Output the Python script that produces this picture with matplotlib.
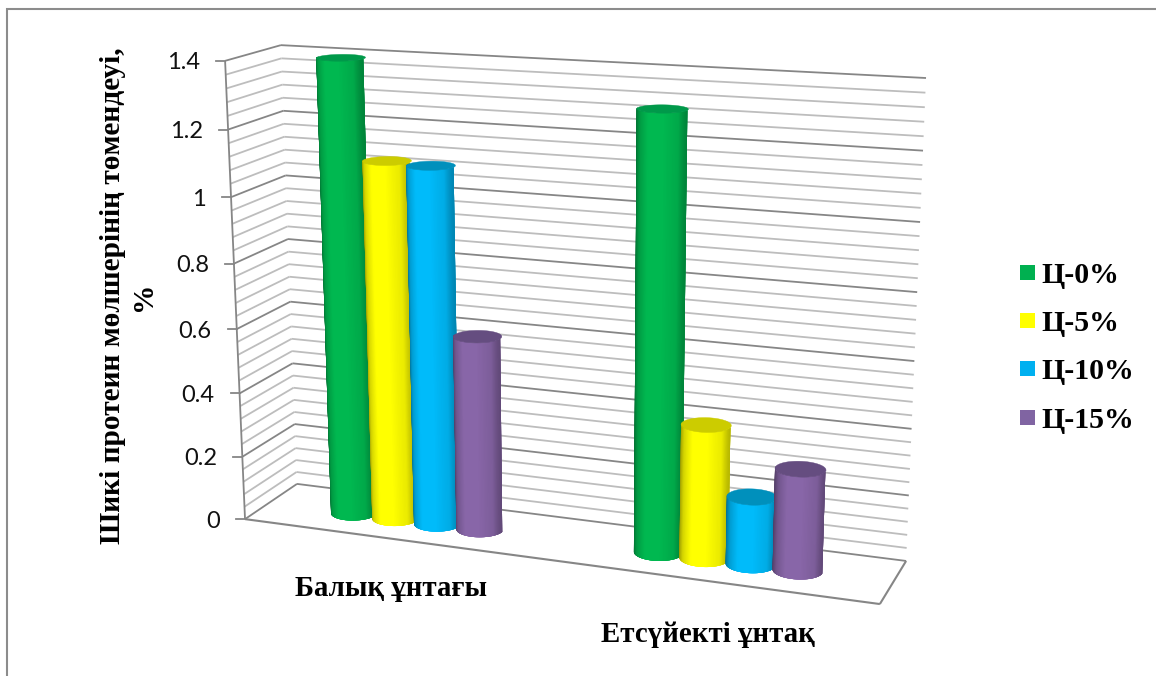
import numpy as np
import matplotlib
matplotlib.use("Agg")
import matplotlib.pyplot as plt
from matplotlib.collections import PolyCollection
from matplotlib.colors import to_rgb
from matplotlib.patches import Rectangle, Polygon

categories = ["Балық ұнтағы", "Етсүйекті ұнтақ"]
series_names = ["Ц-0%", "Ц-5%", "Ц-10%", "Ц-15%"]
values_c0 = [1.40, 1.305]
values_c5 = [1.105, 0.405]
values_c10 = [1.10, 0.205]
values_c15 = [0.60, 0.305]
series_values = [values_c0, values_c5, values_c10, values_c15]
body_colors = ["#00B850", "#FFFF00", "#00BBFA", "#8866A8"]
cap_colors = ["#00994A", "#CCCC00", "#0090BC", "#654D80"]
legend_colors = ["#00B050", "#FFFF00", "#00B0F0", "#8064A2"]
value_ticks = [0, 0.2, 0.4, 0.6, 0.8, 1, 1.2, 1.4]
y_title = "Шикі протеин мөлшерінің төмендеуі,\n%"

Y_MAX = 1.4
MINOR_STEP = 0.04
GRID_MINOR = "#BDBDBD"
GRID_MAJOR = "#868686"
SERIF = "Liberation Serif"

# Camera calibration: box corners (x, value, depth) and where they land on the canvas.
box_corners = np.array([
    [0, 0, 0], [0, Y_MAX, 0], [0, 0, 1], [0, Y_MAX, 1],
    [1, 0, 1], [1, Y_MAX, 1], [1, 0, 0],
], dtype=float)
canvas_corners = np.array([
    [245, 519], [225, 61], [297, 484], [281, 45],
    [906, 561], [926, 78], [880, 604],
], dtype=float)


def fit_camera(world, image):
    rows, rhs = [], []
    for (x, y, z), (u, v) in zip(world, image):
        rows.append([x, y, z, 1, 0, 0, 0, 0, -u * x, -u * y, -u * z])
        rows.append([0, 0, 0, 0, x, y, z, 1, -v * x, -v * y, -v * z])
        rhs += [u, v]
    sol = np.linalg.lstsq(np.array(rows), np.array(rhs), rcond=None)[0]
    return np.append(sol, 1.0).reshape(3, 4)


CAMERA = fit_camera(box_corners, canvas_corners)


def project(x, y, z):
    x, y, z = np.broadcast_arrays(x, y, z)
    h = CAMERA @ np.vstack([x.ravel(), y.ravel(), z.ravel(), np.ones(x.size)])
    return np.column_stack([h[0] / h[2], h[1] / h[2]])


def line3d(ax, a, b, color, lw=1.3, zorder=1):
    pts = project(*np.array([a, b]).T)
    ax.plot(pts[:, 0], pts[:, 1], color=color, lw=lw, zorder=zorder,
            solid_capstyle="butt")


def shade(u):
    # Brightness across the visible face of a cylinder, left to right.
    return np.interp(u, [0, 0.10, 0.35, 0.65, 0.85, 1.0],
                     [0.72, 0.92, 1.0, 1.0, 0.84, 0.58])


def draw_cylinder(ax, x_c, z_c, value, rx, rz, body, cap, zorder):
    theta = np.linspace(np.pi, 0, 61)
    xs = x_c + rx * np.cos(theta)
    zs = z_c - rz * np.sin(theta)
    bottom = project(xs, 0.0, zs)
    top = project(xs, value, zs)
    base = np.array(to_rgb(body))
    quads, colors = [], []
    # Each strip overlaps the next few, which keeps seams out of the gradient.
    for i in range(len(theta) - 1):
        j = min(i + 5, len(theta) - 1)
        quads.append(np.vstack([bottom[i:j + 1], top[i:j + 1][::-1]]))
        u = (1 - np.cos(theta[i])) / 2
        colors.append(tuple(np.clip(base * shade(u), 0, 1)))
    ax.add_collection(PolyCollection(quads, facecolors=colors, edgecolors="none",
                                     linewidths=0, zorder=zorder))
    ring = np.linspace(0, 2 * np.pi, 81)
    cap_pts = project(x_c + rx * np.cos(ring), value, z_c + rz * np.sin(ring))
    ax.add_patch(Polygon(cap_pts, closed=True, facecolor=cap, edgecolor=cap,
                         linewidth=0.3, zorder=zorder + 0.1))


fig = plt.figure(figsize=(11.56, 6.76), dpi=100)
ax = fig.add_axes([0, 0, 1, 1])
ax.set_xlim(0, 1156)
ax.set_ylim(676, 0)
ax.axis("off")

# Outer chart frame.
ax.plot([7, 7, 1156], [676, 9, 9], color="#8C8C8C", lw=1.5, zorder=0,
        solid_joinstyle="miter")

# Gridlines on the back wall and the side wall.
n_levels = int(round(Y_MAX / MINOR_STEP))
for k in range(n_levels + 1):
    level = k * MINOR_STEP
    is_major = k % 5 == 0
    color = GRID_MAJOR if is_major else GRID_MINOR
    line3d(ax, (0, level, 0), (0, level, 1), color)
    line3d(ax, (0, level, 1), (1, level, 1), color)

# Floor outline, value axis and its ticks.
line3d(ax, (0, 0, 0), (1, 0, 0), GRID_MAJOR, 1.5)
line3d(ax, (1, 0, 0), (1, 0, 1), GRID_MAJOR, 1.5)
line3d(ax, (0, 0, 0), (0, Y_MAX, 0), GRID_MAJOR, 1.3)
for tick in value_ticks:
    px, py = project(0.0, tick, 0.0)[0]
    ax.plot([px - 9, px], [py, py], color=GRID_MAJOR, lw=1.3, zorder=1)
    ax.text(px - 25, py + 2, f"{tick:g}", ha="right", va="center",
            fontsize=17, family="Lato", color="#111111")

# Cylinders grouped by category.
band = 1 / len(categories)
bar_step = 0.071
bar_radius = 0.0365
depth_centre = 0.48
depth_radius = 0.20
for c in range(len(categories)):
    centre = band * (c + 0.5) + 0.0035
    for s, vals in enumerate(series_values):
        x_c = centre + (s - 1.5) * bar_step
        draw_cylinder(ax, x_c, depth_centre, vals[c], bar_radius, depth_radius,
                      body_colors[s], cap_colors[s], 3 + c * 2 + s * 0.2)

# Category labels.
label_points = [(391, 589), (708, 634)]
for name, (lx, ly) in zip(categories, label_points):
    ax.text(lx, ly, name, ha="center", va="center", fontsize=20.8,
            family=SERIF, weight="bold", color="black")

# Value axis title.
ax.text(128, 296, y_title, ha="center", va="center", rotation=90, fontsize=21.2,
        family=SERIF, weight="bold", color="black", linespacing=1.15,
        multialignment="center")

# Legend.
swatch_tops = [265, 313, 361, 410]
text_baselines = [283, 331, 379, 428]
for name, col, sy, by in zip(series_names, legend_colors, swatch_tops, text_baselines):
    ax.add_patch(Rectangle((1020, sy), 15, 15, facecolor=col, edgecolor="none"))
    ax.text(1041, by, name, ha="left", va="baseline", fontsize=21.5,
            family=SERIF, weight="bold", color="black")

fig.savefig("out.png", dpi=100)
